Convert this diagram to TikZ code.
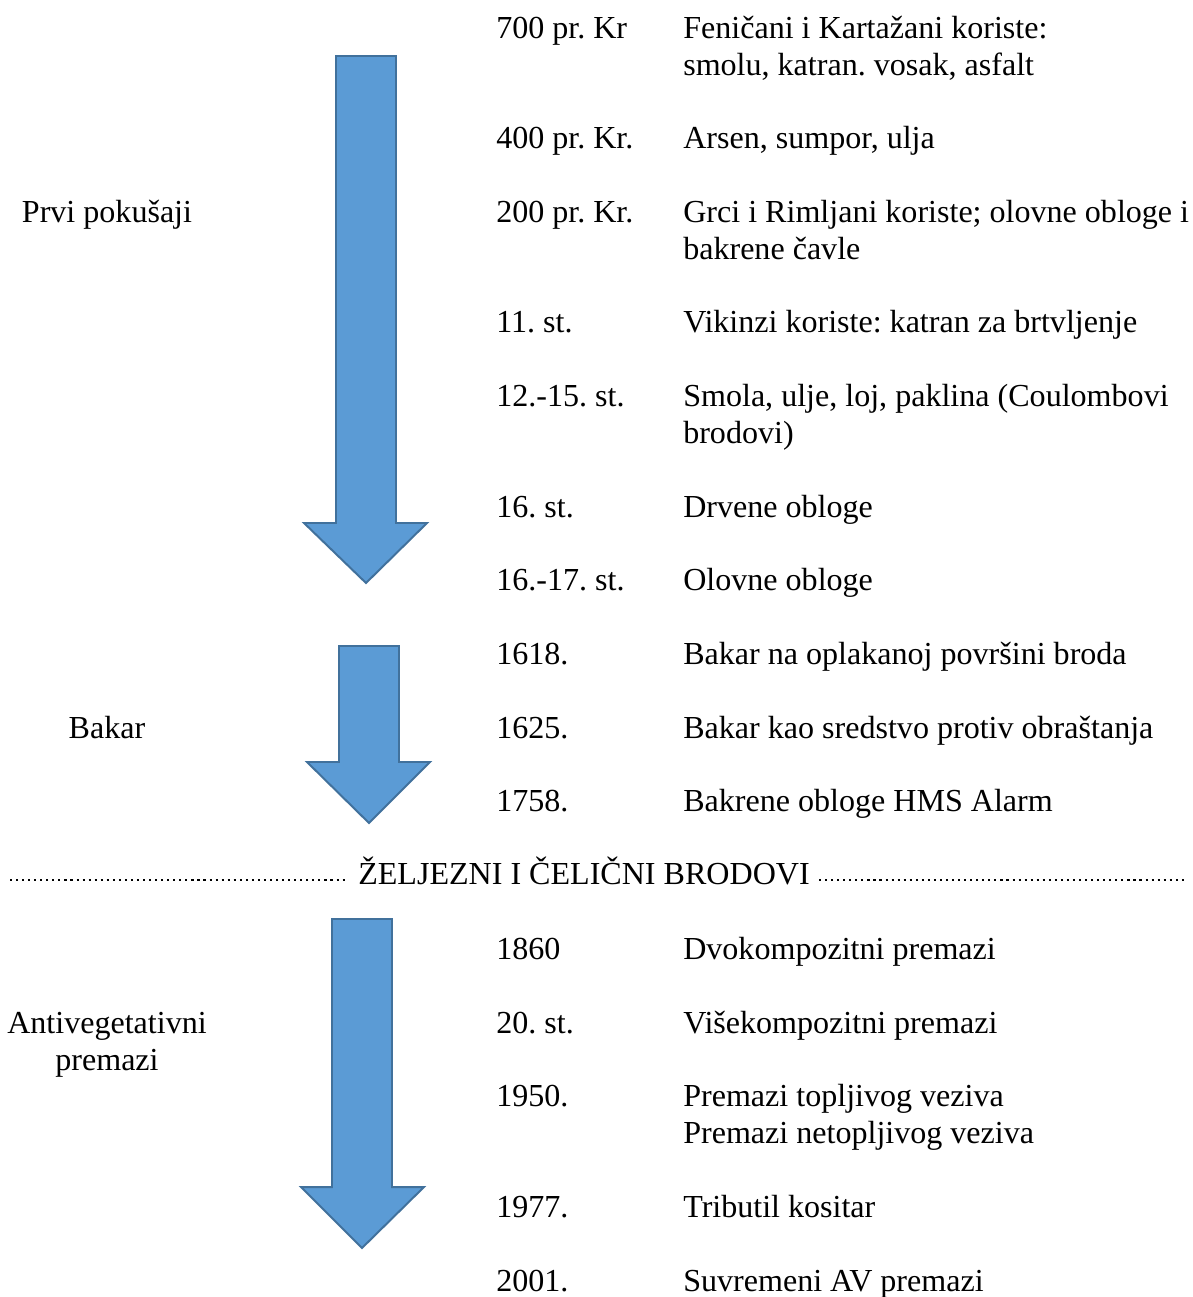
\documentclass[tikz,border=0pt]{standalone}
\usepackage{fontspec}
\setmainfont{Liberation Serif}
\usepackage{tikz}
\usetikzlibrary{calc}
\definecolor{arrowfill}{HTML}{5B9BD5}
\definecolor{arrowline}{HTML}{41719C}
\newcommand{\rowfont}{\fontsize{22.8}{26.2}\selectfont}
\frenchspacing

\begin{document}
\begin{tikzpicture}[x=0.025cm,y=-0.025cm,
  txt/.style={anchor=base west,inner sep=0pt,align=left,font=\rowfont},
  lbl/.style={anchor=base,inner sep=0pt,align=center,font=\rowfont},
  stage/.style={fill=arrowfill,draw=arrowline,line width=1.4pt,line join=miter},
  dotrule/.style={line width=1.7pt,dash pattern=on 1.5pt off 2.8pt}]
  \useasboundingbox (0,0) rectangle (1192,1297);

  % arrows
  \draw[stage] (336,56) -- (396,56) -- (396,523) -- (427,523) -- (366,583) -- (304,523) -- (336,523) -- cycle;
  \draw[stage] (339,646) -- (399,646) -- (399,762) -- (430,762) -- (369,823) -- (307,762) -- (339,762) -- cycle;
  \draw[stage] (332,919) -- (392,919) -- (392,1187) -- (424,1187) -- (362,1248) -- (301,1187) -- (332,1187) -- cycle;

  % left labels (two-line nodes sit on their last baseline)
  \node[lbl] (lprvi) at (107,222.3) {Prvi pokušaji};
  \node[lbl] (lbakar) at (107,738) {Bakar};
  \node[lbl] (lanti) at (107,1070) {Antivegetativni\\premazi};

  % dates
  \node[txt] (d1) at (496,38) {700 pr. Kr};
  \node[txt] (d2) at (496,148.6) {400 pr. Kr.};
  \node[txt] (d3) at (496,222.3) {200 pr. Kr.};
  \node[txt] (d4) at (496,332.8) {11. st.};
  \node[txt] (d5) at (496,406.5) {12.-15. st.};
  \node[txt] (d6) at (496,517) {16. st.};
  \node[txt] (d7) at (496,590.8) {16.-17. st.};
  \node[txt] (d8) at (496,664.5) {1618.};
  \node[txt] (d9) at (496,738) {1625.};
  \node[txt] (d10) at (496,811.9) {1758.};
  \node[txt] (d11) at (496,959) {1860};
  \node[txt] (d12) at (496,1033) {20. st.};
  \node[txt] (d13) at (496,1106.7) {1950.};
  \node[txt] (d14) at (496,1217) {1977.};
  \node[txt] (d15) at (496,1291) {2001.};

  % events
  \node[txt] (t1) at (683,75) {Feničani i Kartažani koriste:\\smolu, katran. vosak, asfalt};
  \node[txt] (t2) at (683,148.6) {Arsen, sumpor, ulja};
  \node[txt] (t3) at (683,259.2) {Grci i Rimljani koriste; olovne obloge i\\bakrene čavle};
  \node[txt] (t4) at (683,332.8) {Vikinzi koriste: katran za brtvljenje};
  \node[txt] (t5) at (683,443.4) {Smola, ulje, loj, paklina (Coulombovi\\brodovi)};
  \node[txt] (t6) at (683,517) {Drvene obloge};
  \node[txt] (t7) at (683,590.8) {Olovne obloge};
  \node[txt] (t8) at (683,664.5) {Bakar na oplakanoj površini broda};
  \node[txt] (t9) at (683,738) {Bakar kao sredstvo protiv obraštanja};
  \node[txt] (t10) at (683,811.9) {Bakrene obloge HMS Alarm};
  \node[txt] (t11) at (683,959) {Dvokompozitni premazi};
  \node[txt] (t12) at (683,1033) {Višekompozitni premazi};
  \node[txt] (t13) at (683,1143.6) {Premazi topljivog veziva\\Premazi netopljivog veziva};
  \node[txt] (t14) at (683,1217) {Tributil kositar};
  \node[txt] (t15) at (683,1291) {Suvremeni AV premazi};

  % heading with dotted rule
  \node[lbl] (hd) at (584,884) {ŽELJEZNI I ČELIČNI BRODOVI};
  \coordinate (dl) at (10,880);
  \coordinate (dr) at (1186,880);
  \draw[dotrule] (dl) -- ($(hd.west |- dl)+(-12,0)$);
  \draw[dotrule] ($(hd.east |- dr)+(9,0)$) -- (dr);
\end{tikzpicture}
\end{document}
